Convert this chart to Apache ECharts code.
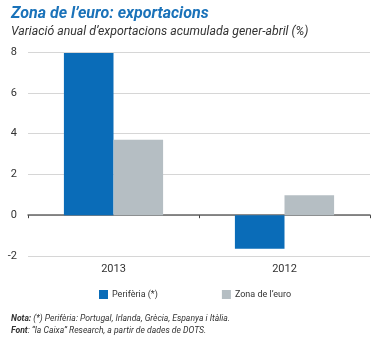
<!DOCTYPE html>
<html><head><meta charset="utf-8">
<script src="https://cdn.jsdelivr.net/npm/echarts@6/dist/echarts.min.js"></script>
<style>html,body{margin:0;padding:0;background:#fff}#c{width:382px;height:338px}</style>
</head><body><div id="c"></div>
<script>
const categories = ['2013', '2012'];
const periferia = [7.95, -1.65];
const zonaEuro = [3.7, 0.98];
const yTicks = { min: -2, max: 8, interval: 2 };
const seriesNames = ['Perifèria (*)', "Zona de l’euro"];

const chart = echarts.init(document.getElementById('c'), null, {renderer: 'canvas'});
const font = 'Roboto, "Open Sans", sans-serif';
chart.setOption({
  animation: false,
  textStyle: { fontFamily: font },
  title: [
    { text: 'Zona de l’euro: exportacions', left: 6, top: 1,
      textStyle: { fontFamily: font, fontSize: 16, fontWeight: 'bold', fontStyle: 'italic', color: '#1a72b9' } },
    { text: 'Variació anual d’exportacions acumulada gener-abril (%)', left: 6, top: 21,
      textStyle: { fontFamily: font, fontSize: 12.3, fontWeight: 'normal', fontStyle: 'italic', color: '#333' } },
    { text: '{b|Nota:} (*) Perifèria: Portugal, Irlanda, Grècia, Espanya i Itàlia.\n{b|Font}: “la Caixa” Research, a partir de dades de DOTS.',
      left: 6, top: 308,
      textStyle: { fontFamily: font, fontSize: 8.6, fontStyle: 'italic', fontWeight: 'normal', color: '#333', lineHeight: 12,
        rich: { b: { fontFamily: font, fontSize: 8.6, fontStyle: 'italic', fontWeight: 'bold', color: '#333' } } } }
  ],
  legend: {
    top: 285, left: 94, itemWidth: 9, itemHeight: 9, itemGap: 64, icon: 'rect',
    textStyle: { fontFamily: font, fontSize: 9, color: '#333', padding: [0, 0, 0, -1] },
    data: seriesNames
  },
  grid: { left: 28, right: 12, top: 52, bottom: 82, containLabel: false },
  xAxis: [
    { type: 'category', data: categories, position: 'bottom',
      axisLine: { show: false, onZero: false }, axisTick: { show: false },
      axisLabel: { fontFamily: font, fontSize: 11, color: '#333', margin: 8 } },
    { type: 'category', data: categories, position: 'bottom',
      axisLine: { show: true, onZero: true, lineStyle: { color: '#666', width: 1.5 } },
      axisTick: { show: true, length: 3, lineStyle: { color: '#444' } },
      axisLabel: { show: false } }
  ],
  yAxis: {
    type: 'value', min: yTicks.min, max: yTicks.max, interval: yTicks.interval,
    axisLine: { show: false }, axisTick: { show: false },
    axisLabel: { fontFamily: font, fontSize: 11, color: '#333', margin: 11 },
    splitLine: { lineStyle: { color: '#d6d6d6', width: 1 } }
  },
  series: [
    { name: seriesNames[0], type: 'bar', xAxisIndex: 0, data: periferia, barGap: '0%', barCategoryGap: '42%',
      itemStyle: { color: '#0a6cb8' } },
    { name: seriesNames[1], type: 'bar', xAxisIndex: 0, data: zonaEuro, barGap: '0%', barCategoryGap: '42%',
      itemStyle: { color: '#b5bec3' } }
  ]
});
</script></body></html>
